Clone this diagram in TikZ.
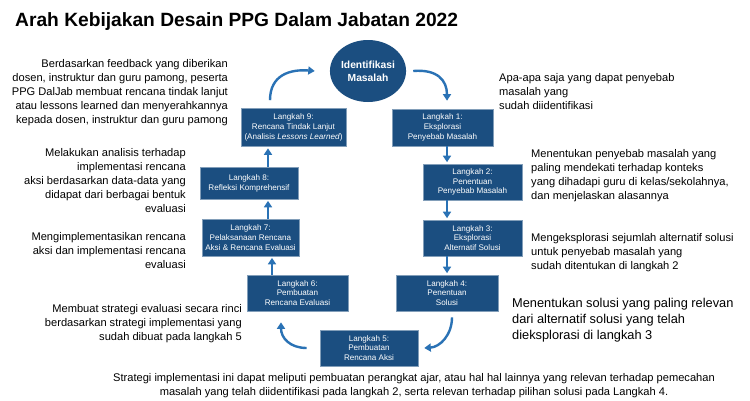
\documentclass[tikz,border=0pt]{standalone}
\usepackage{fontspec}
\setmainfont{Liberation Sans}
\usetikzlibrary{arrows.meta,shapes.geometric,calc}
\definecolor{boxblue}{HTML}{1B4E80}
\definecolor{arrblue}{HTML}{2A72B5}
\begin{document}
\begin{tikzpicture}[x=1pt,y=-1pt,
 stepbox/.style={draw=boxblue!55!white, line width=0.6pt, fill=boxblue, text=white, align=center, inner sep=0pt, font=\fontsize{8.1}{9.8}\selectfont},
 flow/.style={draw=arrblue, line width=2.4pt, -{Triangle[length=6.5pt,width=8pt]}},
 desc/.style={inner sep=0pt, font=\fontsize{11.1}{14}\selectfont},
]
\useasboundingbox[fill=white] (0,0) rectangle (750,400);

\node[anchor=west, inner sep=0pt, font=\bfseries\fontsize{19.2}{21}\selectfont] (title) at (15,22) {Arah Kebijakan Desain PPG Dalam Jabatan 2022};

\node[ellipse, fill=boxblue, text=white, minimum width=70pt, minimum height=62pt, inner sep=0pt, align=center, font=\bfseries\fontsize{10.3}{13}\selectfont] (ci) at (368,71) {Identifikasi\\Masalah};

\node[stepbox, minimum width=105pt, minimum height=38pt] (s9) at (293.5,127.5) {Langkah 9:\\Rencana Tindak Lanjut\\(Analisis \textit{Lessons Learned})};
\node[stepbox, minimum width=98pt, minimum height=32pt] (s8) at (249,183) {Langkah 8:\\Refleksi Komprehensif};
\node[stepbox, minimum width=97pt, minimum height=37pt] (s7) at (250.5,237.5) {Langkah 7:\\Pelaksanaan Rencana\\Aksi \& Rencana Evaluasi};
\node[stepbox, minimum width=101pt, minimum height=36pt] (s6) at (297.5,293) {Langkah 6:\\Pembuatan\\Rencana Evaluasi};
\node[stepbox, minimum width=98pt, minimum height=36pt] (s5) at (369,348) {Langkah 5:\\Pembuatan\\Rencana Aksi};
\node[stepbox, minimum width=102pt, minimum height=36pt] (s4) at (447,293) {Langkah 4:\\Penentuan\\Solusi};
\node[stepbox, minimum width=99pt, minimum height=36pt] (s3) at (472.5,238) {Langkah 3:\\Eksplorasi\\Alternatif Solusi};
\node[stepbox, minimum width=99pt, minimum height=36pt] (s2) at (472.5,182) {Langkah 2:\\Penentuan\\Penyebab Masalah};
\node[stepbox, minimum width=101pt, minimum height=37pt] (s1) at (442.5,127.5) {Langkah 1:\\Eksplorasi\\Penyebab Masalah};

\coordinate (xL) at (268,0);
\coordinate (xM) at (272,0);
\coordinate (xR) at (447,0);
\coordinate (xA) at (270,0);
\coordinate (xC) at (452,0);
\coordinate (xD) at (281,0);

\draw[flow, shorten >=1.5pt] (s8.north -| xL) -- (s9.south -| xL);
\draw[flow, shorten >=1.5pt] (s7.north -| xL) -- (s8.south -| xL);
\draw[flow, shorten >=1.5pt] (s6.north -| xM) -- (s7.south -| xM);
\draw[flow, shorten >=1.5pt] (s1.south -| xR) -- (s2.north -| xR);
\draw[flow, shorten >=1.5pt] (s2.south -| xR) -- (s3.north -| xR);
\draw[flow, shorten >=1.5pt] (s3.south -| xR) -- (s4.north -| xR);

\draw[flow] ($(s9.north -| xA)+(0,-8)$) .. controls (270,75) and (290,69) .. ($(ci.west)+(-15,0)$);
\draw[flow] ($(ci.east)+(7,0)$) .. controls (437,69) and (447,80) .. ($(s1.north -| xR)+(0,-8)$);
\draw[flow] ($(s4.south -| xC)+(0,6)$) .. controls (452,335) and (440,347) .. ($(s5.east)+(6,0)$);
\draw[flow] ($(s5.west)+(-13,0)$) .. controls (290,348) and (281,338) .. ($(s6.south -| xD)+(0,11)$);

\node[desc, align=right, anchor=north east] (t9) at (228,59) {Berdasarkan feedback yang diberikan\\dosen, instruktur dan guru pamong, peserta\\PPG DalJab membuat rencana tindak lanjut\\atau lessons learned dan menyerahkannya\\kepada dosen, instruktur dan guru pamong};
\node[desc, align=right, anchor=north east] (t8) at (186,148) {Melakukan analisis terhadap\\implementasi rencana\\aksi berdasarkan data-data yang\\didapat dari berbagai bentuk\\evaluasi};
\node[desc, align=right, anchor=north east] (t7) at (186,232) {Mengimplementasikan rencana\\aksi dan implementasi rencana\\evaluasi};
\node[desc, align=right, anchor=north east] (t6) at (242,304) {Membuat strategi evaluasi secara rinci\\berdasarkan strategi implementasi yang\\sudah dibuat pada langkah 5};
\node[desc, align=center, anchor=north] (t5) at (414,373) {Strategi implementasi ini dapat meliputi pembuatan perangkat ajar, atau hal hal lainnya yang relevan terhadap pemecahan\\masalah yang telah diidentifikasi pada langkah 2, serta relevan terhadap pilihan solusi pada Langkah 4.};
\node[desc, align=left, anchor=north west] (t1) at (499,73) {Apa-apa saja yang dapat penyebab\\masalah yang\\sudah diidentifikasi};
\node[desc, align=left, anchor=north west] (t2) at (531,149) {Menentukan penyebab masalah yang\\paling mendekati terhadap konteks\\yang dihadapi guru di kelas/sekolahnya,\\dan menjelaskan alasannya};
\node[desc, align=left, anchor=north west] (t3) at (531,233) {Mengeksplorasi sejumlah alternatif solusi\\untuk penyebab masalah yang\\sudah ditentukan di langkah 2};
\node[inner sep=0pt, font=\fontsize{12.8}{16}\selectfont, align=left, anchor=north west] (t4) at (512,298) {Menentukan solusi yang paling relevan\\dari alternatif solusi yang telah\\dieksplorasi di langkah 3};
\end{tikzpicture}
\end{document}
